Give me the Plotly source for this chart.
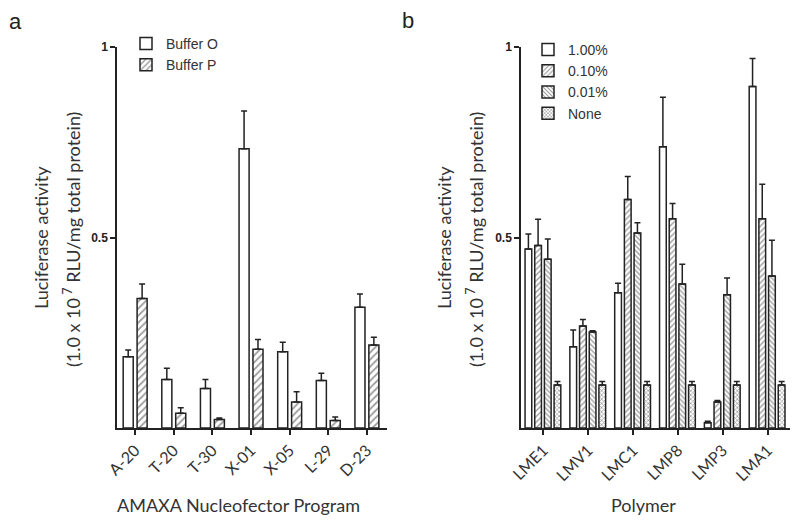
import plotly.graph_objects as go

# ---------------- Data ----------------
programs = ["A-20", "T-20", "T-30", "X-01", "X-05", "L-29", "D-23"]
buffer_o = [0.187, 0.127, 0.104, 0.733, 0.200, 0.125, 0.317]
buffer_o_err = [0.018, 0.030, 0.023, 0.099, 0.025, 0.019, 0.035]
buffer_p = [0.340, 0.039, 0.022, 0.207, 0.068, 0.020, 0.218]
buffer_p_err = [0.038, 0.014, 0.004, 0.025, 0.027, 0.009, 0.020]

polymers = ["LME1", "LMV1", "LMC1", "LMP8", "LMP3", "LMA1"]
conc_names = ["1.00%", "0.10%", "0.01%", "None"]
p100 = [0.470, 0.213, 0.355, 0.738, 0.014, 0.896]
p100_err = [0.039, 0.044, 0.025, 0.130, 0.004, 0.074]
p010 = [0.479, 0.268, 0.600, 0.549, 0.068, 0.549]
p010_err = [0.069, 0.017, 0.060, 0.040, 0.004, 0.091]
p001 = [0.443, 0.252, 0.512, 0.378, 0.350, 0.399]
p001_err = [0.053, 0.003, 0.027, 0.052, 0.044, 0.094]
pnone = [0.113, 0.113, 0.113, 0.113, 0.113, 0.113]
pnone_err = [0.009, 0.009, 0.009, 0.009, 0.009, 0.009]

# The page body has an 8px margin, so the figure is sized to fit the window.
PAD = 8
W, H = 800 - 2 * PAD, 524 - 2 * PAD
LINE = "#222222"
FG = "#3a3a3a"

def px_x(p):
    return (p - PAD) / W

def px_y(p):
    return 1 - (p - PAD) / H

fig = go.Figure()

def add_bar(x, y, err, name, xa, ya, legend, offset, width, pattern):
    marker = dict(color="white", line=dict(color=LINE, width=1.5))
    if pattern:
        marker["pattern"] = pattern
    fig.add_trace(go.Bar(
        x=x, y=y, name=name, xaxis=xa, yaxis=ya, legend=legend,
        offset=offset, width=width, marker=marker,
        error_y=dict(type="data", symmetric=False, array=err,
                     arrayminus=[0] * len(err), color=LINE,
                     thickness=1.5, width=3),
    ))

# Panel a
add_bar(programs, buffer_o, buffer_o_err, "Buffer O", "x", "y", "legend", -0.31, 0.26, None)
add_bar(programs, buffer_p, buffer_p_err, "Buffer P", "x", "y", "legend", 0.05, 0.26,
        dict(shape="/", fgcolor=FG, bgcolor="white", size=5, solidity=0.35))

# Panel b
wb = 0.15
add_bar(polymers, p100, p100_err, conc_names[0], "x2", "y2", "legend2", -0.41, wb, None)
add_bar(polymers, p010, p010_err, conc_names[1], "x2", "y2", "legend2", -0.194, wb,
        dict(shape="/", fgcolor=FG, bgcolor="white", size=4, solidity=0.35))
add_bar(polymers, p001, p001_err, conc_names[2], "x2", "y2", "legend2", 0.022, wb,
        dict(shape="\\", fgcolor=FG, bgcolor="white", size=3.5, solidity=0.4))
add_bar(polymers, pnone, pnone_err, conc_names[3], "x2", "y2", "legend2", 0.238, wb,
        dict(shape="x", fgcolor=FG, bgcolor="white", size=3, solidity=0.45))

tickfont_y = dict(family="Liberation Sans", size=12, color="#222222", weight="bold")
tickfont_x = dict(family="Lato", size=16, color="#333333")

common_x = dict(type="category", showline=True, linecolor=LINE, linewidth=1.5,
                ticks="outside", ticklen=5, tickwidth=1.5, tickcolor=LINE,
                tickangle=-45, tickfont=tickfont_x, showgrid=False, zeroline=False,
                automargin=False)
common_y = dict(range=[0, 1], showline=True, linecolor=LINE, linewidth=1.5,
                ticks="outside", ticklen=5, tickwidth=1.5, tickcolor=LINE,
                tickvals=[0.5, 1], ticktext=["0.5", "1"], tickfont=tickfont_y,
                showgrid=False, zeroline=False, automargin=False)

fig.update_layout(
    width=W, height=H,
    margin=dict(l=0, r=0, t=0, b=0, autoexpand=False),
    paper_bgcolor="white", plot_bgcolor="white",
    xaxis=dict(domain=[px_x(117), px_x(387)], range=[-0.47, 6.52], anchor="y", **common_x),
    yaxis=dict(domain=[px_y(428), px_y(47)], anchor="x", **common_y),
    xaxis2=dict(domain=[px_x(521), px_x(790)], range=[-0.5, 5.5], anchor="y2", **common_x),
    yaxis2=dict(domain=[px_y(428), px_y(47)], anchor="x2", **common_y),
    legend=dict(x=px_x(126), y=px_y(28), xanchor="left", yanchor="top",
                bgcolor="rgba(0,0,0,0)", font=dict(family="Liberation Sans", size=14, color="#333333"),
                tracegroupgap=0, itemwidth=30),
    legend2=dict(x=px_x(528), y=px_y(34), xanchor="left", yanchor="top",
                 bgcolor="rgba(0,0,0,0)", font=dict(family="Liberation Sans", size=14, color="#333333"),
                 tracegroupgap=0, itemwidth=30),
    showlegend=True,
)

ann_font = dict(family="Lato", size=18, color="#333333")
annotations = [
    dict(text="a", x=px_x(15), y=px_y(22), font=dict(family="Liberation Sans", size=22, color="#222222")),
    dict(text="b", x=px_x(408), y=px_y(21), font=dict(family="Liberation Sans", size=22, color="#222222")),
    dict(text="AMAXA Nucleofector Program", x=px_x(238), y=px_y(505), font=ann_font),
    dict(text="Polymer", x=px_x(643), y=px_y(505), font=ann_font),
    dict(text="Luciferase activity", x=px_x(41), y=px_y(238), textangle=-90, font=ann_font),
    dict(text="(1.0 x 10<sup> 7</sup> RLU/mg total protein)", x=px_x(72), y=px_y(240), textangle=-90, font=ann_font),
    dict(text="Luciferase activity", x=px_x(444), y=px_y(238), textangle=-90, font=ann_font),
    dict(text="(1.0 x 10<sup> 7</sup> RLU/mg total protein)", x=px_x(475), y=px_y(240), textangle=-90, font=ann_font),
]
for a in annotations:
    fig.add_annotation(xref="paper", yref="paper", showarrow=False,
                       xanchor="center", yanchor="middle", **a)

fig.write_html("out.html")
